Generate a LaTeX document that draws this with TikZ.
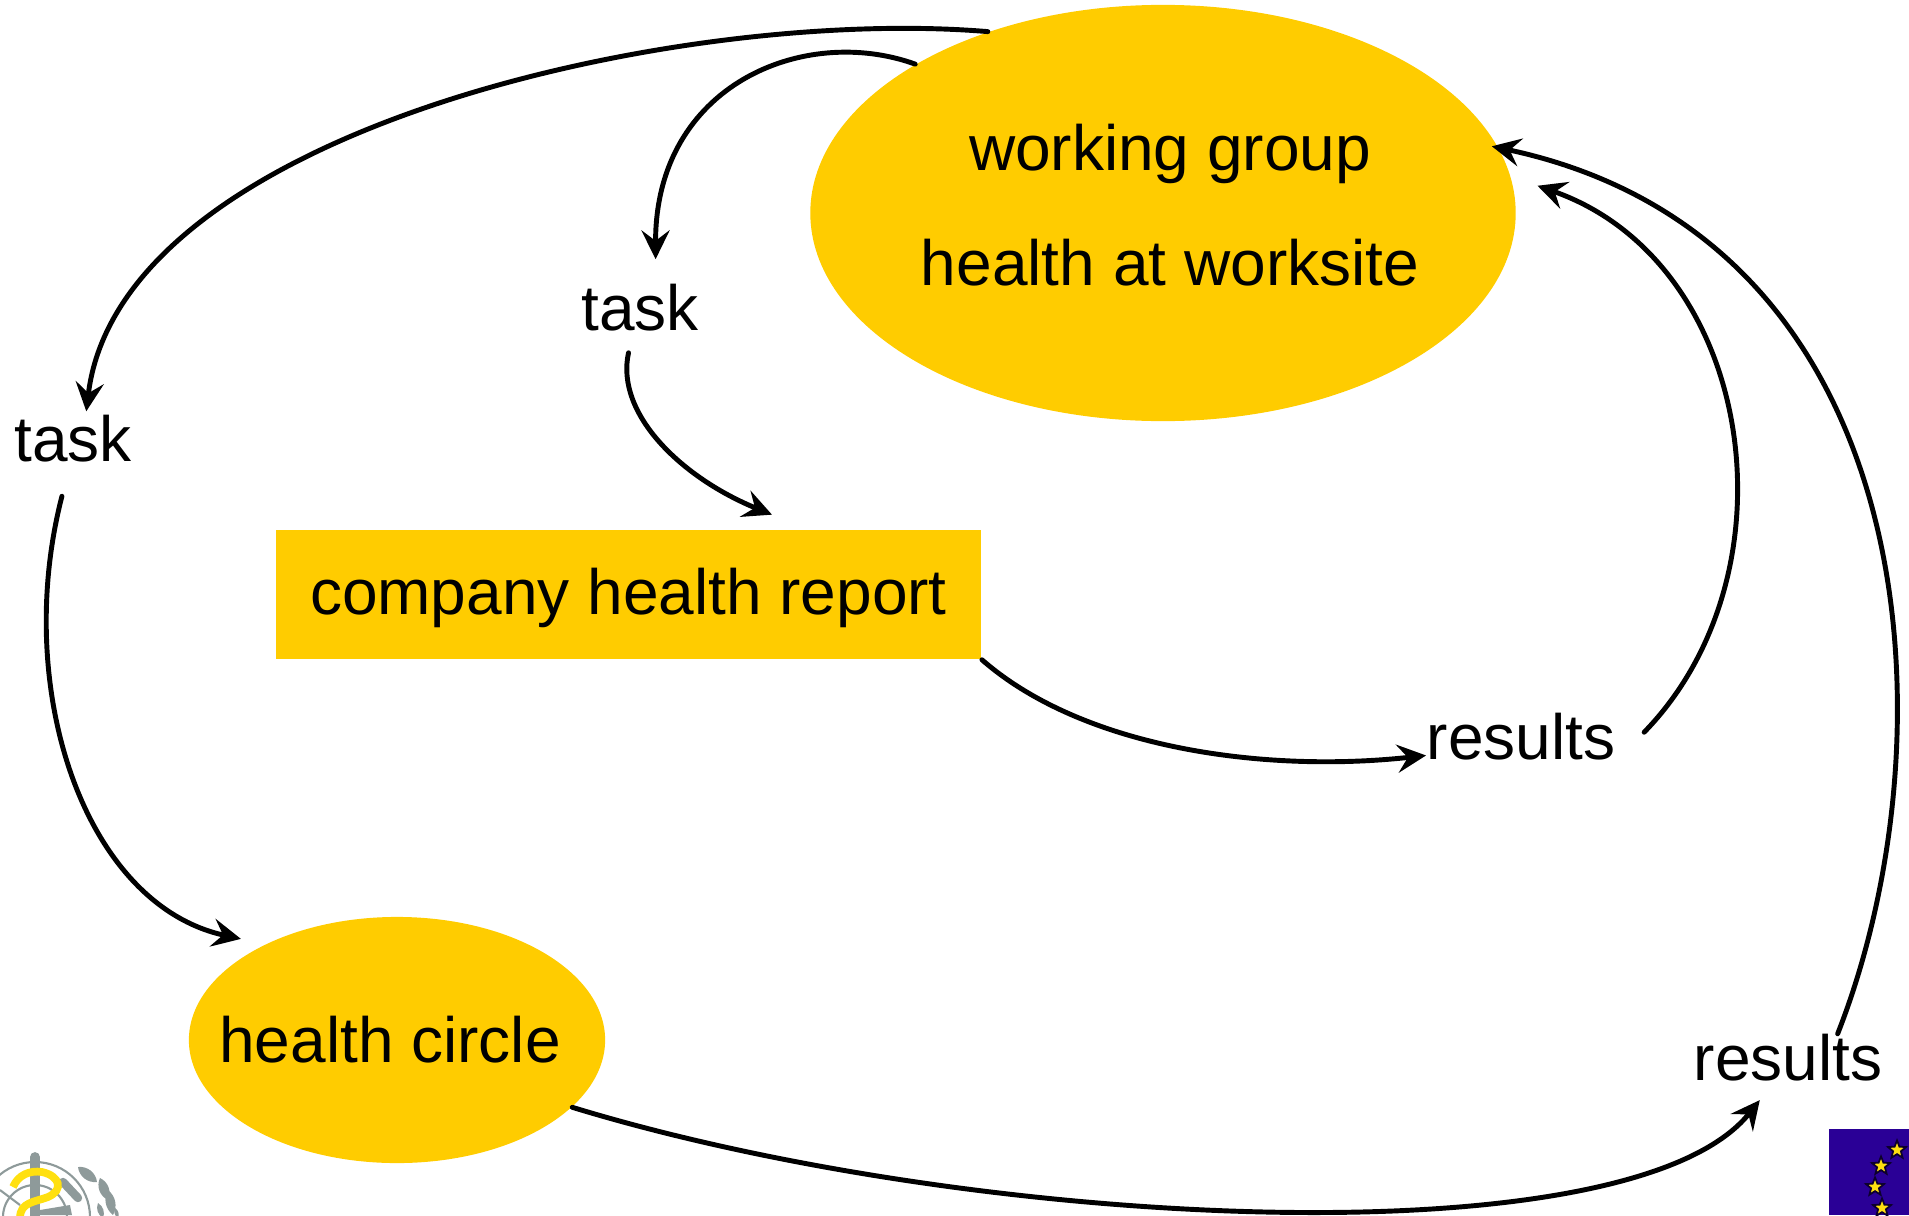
\documentclass[tikz,border=0pt]{standalone}
\usepackage{fontspec}
\setmainfont{Liberation Sans}
\usetikzlibrary{arrows.meta,shapes.geometric}
\definecolor{boxyellow}{HTML}{FFCC00}
\definecolor{whogray}{HTML}{8E9A9A}
\definecolor{whoyellow}{HTML}{FFE010}
\definecolor{flagblue}{HTML}{2A0096}

\begin{document}
\begin{tikzpicture}[
        %We set the scale and define some styles
        x=0.01cm, y=-0.01cm,
        every node/.style={color=black,font=\fontsize{18.2}{32.7}\selectfont,inner sep=0pt},
        flow line/.style={line width=1.4pt, ->, >={Stealth[length=8.2pt,width=8pt,inset=3pt]}, line cap=round},
        yellow ellipse/.style={ellipse, fill=boxyellow},
        yellow box/.style={rectangle, fill=boxyellow},
        leaf/.style={fill=whogray},
        globe line/.style={draw=whogray, line width=0.6pt}
]
\useasboundingbox (0,0) rectangle (1909,1215);

% the three yellow shapes
\node[yellow ellipse, minimum width=7.05cm, minimum height=4.16cm] (group) at (1163,213) {};
\node[align=center] (grouptext) at (1170,205) {working group\\health at worksite};
\node[yellow box, minimum width=7.05cm, minimum height=1.29cm, text depth=2pt] (report) at (628.5,594.5) {company health report};
\node[yellow ellipse, minimum width=4.16cm, minimum height=2.46cm] (circle) at (397,1040) {};
\node (circletext) at (390,1040) {health circle};

% the labels
\node (taskleft) at (73,439) {task};
\node (taskmid) at (640,308) {task};
\node (resultsmid) at (1521,737) {results};
\node (resultsright) at (1788,1058) {results};

% connectors
\draw[flow line, shorten >=1pt] (group.134) .. controls (682,6) and (120,130) .. (taskleft.62);
\draw[flow line, shorten >=7pt] (group.149.5) .. controls (804,24) and (655,85) .. (taskmid.57);
\draw[flow line, shorten <=6pt, shorten >=11pt] (taskmid.254) .. controls (615,414) and (682,478) .. (report.20);
\draw[flow line, shorten <=9.7pt, shorten >=7pt] (taskleft.264) .. controls (12,690) and (85,905) .. (circle.144);
\draw[flow line] (report.south east) .. controls (1084,749) and (1266,773) .. (resultsmid.191);
\draw[flow line, shorten <=11.5pt, shorten >=8pt] (resultsmid.south east) .. controls (1800,572) and (1755,262) .. (group.6);
\draw[flow line, shorten >=-2pt] (resultsright.26) .. controls (1955,735) and (1926,239) .. (group.11);
\draw[flow line, shorten >=6.5pt] (circle.-21) .. controls (974,1230) and (1631,1262) .. (resultsright.240);

% logo on the left
\draw[globe line] (35,1217) circle (55);
\draw[globe line] (35,1217) circle (32);
\draw[globe line] (0,1190) -- (20,1205);
\fill[whogray] (40,1210) -- (70,1205) -- (72,1215) -- (40,1215) -- cycle;
\draw[whogray, line width=2.4pt, line cap=round] (63,1182) -- (78,1198);
\draw[whogray, line width=2.8pt, line cap=round] (35,1157) -- (35,1220);
\draw[whoyellow, line width=2.2pt] (13,1187) .. controls (18,1175) and (30,1170) .. (42,1172)
    .. controls (60,1176) and (64,1190) .. (48,1197) .. controls (35,1202) and (20,1202) .. (20,1218);
\fill[leaf] (78,1167) to[bend left=45] (97,1182) to[bend left=45] cycle;
\fill[leaf] (100,1178) to[bend left=45] (108,1200) to[bend left=45] cycle;
\fill[leaf] (108,1190) to[bend left=40] (113,1215) to[bend left=40] cycle;
\fill[leaf] (98,1203) to[bend left=40] (103,1218) to[bend left=40] cycle;
\fill[leaf] (115,1208) to[bend left=40] (118,1218) to[bend left=40] cycle;

% flag on the right
\fill[flagblue] (1829,1129) rectangle (1909,1215);
\foreach \sx/\sy [count=\i] in {1897/1150,1881/1166,1875/1187,1882/1208}
    \node[star, star points=5, star point ratio=2.3, fill=whoyellow, draw=black!70!flagblue, line width=0.5pt, minimum size=0.19cm] (star\i) at (\sx,\sy) {};
\end{tikzpicture}
\end{document}
